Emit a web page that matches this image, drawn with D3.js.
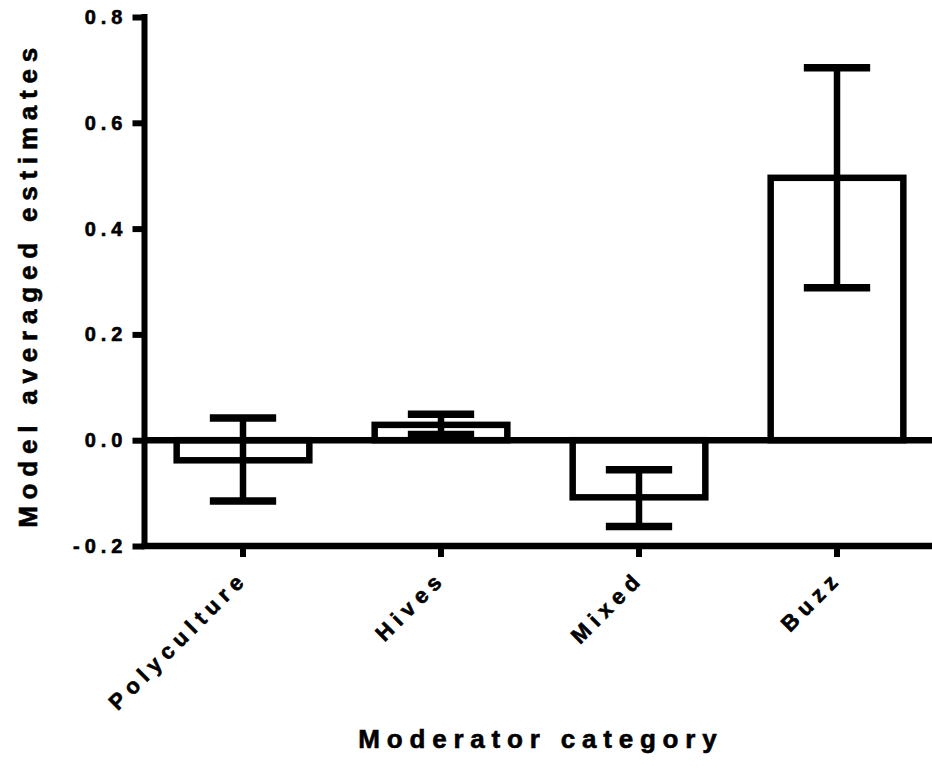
<!DOCTYPE html>
<html>
<head>
<meta charset="utf-8">
<script src="https://cdn.jsdelivr.net/npm/d3@7"></script>
<style>
  html, body { margin: 0; padding: 0; background: #fff; }
  svg { display: block; }
  text {
    font-family: "Liberation Sans", Arial, Helvetica, sans-serif;
    font-weight: bold; fill: #000;
    stroke: #000; stroke-width: 0.6px; paint-order: stroke;
  }
</style>
</head>
<body>
<svg id="chart" width="932" height="778"></svg>
<script>
// Moderator categories and their model averaged estimates with interval bounds
const categories = ["Polyculture", "Hives", "Mixed", "Buzz"];
const estimates  = [-0.038, 0.029, -0.108, 0.496];
const upperBound = [0.042, 0.049, -0.056, 0.704];
const lowerBound = [-0.115, 0.011, -0.163, 0.288];
const yTicks     = [-0.2, 0.0, 0.2, 0.4, 0.6, 0.8];

const W = 932, H = 778;
const axisX = 144.5, bottomY = 546, topY = 17;
const svg = d3.select("#chart");

const x = d3.scaleBand().domain(categories).range([144, 936]).paddingInner(0).paddingOuter(0);
const y = d3.scaleLinear().domain([-0.2, 0.8]).range([bottomY, topY]);

const barW = x.bandwidth() * 0.67;
const capW = barW / 2;
const rows = categories.map((c, i) => ({ c, v: estimates[i], hi: upperBound[i], lo: lowerBound[i] }));

// Bars (open outlines)
svg.append("g").selectAll("rect").data(rows).join("rect")
  .attr("x", d => x(d.c) + x.bandwidth() / 2 - barW / 2)
  .attr("width", barW)
  .attr("y", d => Math.min(y(d.v), y(0)))
  .attr("height", d => Math.abs(y(d.v) - y(0)))
  .attr("fill", "none")
  .attr("stroke", "#000")
  .attr("stroke-width", 6.5);

// Error bars
const eb = svg.append("g").selectAll("g").data(rows).join("g")
  .attr("transform", d => `translate(${x(d.c) + x.bandwidth() / 2},0)`);
eb.append("line")
  .attr("y1", d => y(d.hi)).attr("y2", d => y(d.lo))
  .attr("stroke", "#000").attr("stroke-width", 6.5);
eb.append("line")
  .attr("x1", -capW / 2).attr("x2", capW / 2)
  .attr("y1", d => y(d.hi)).attr("y2", d => y(d.hi))
  .attr("stroke", "#000").attr("stroke-width", 7.5);
eb.append("line")
  .attr("x1", -capW / 2).attr("x2", capW / 2)
  .attr("y1", d => y(d.lo)).attr("y2", d => y(d.lo))
  .attr("stroke", "#000").attr("stroke-width", 7.5);

// Zero reference line
svg.append("line")
  .attr("x1", axisX).attr("x2", W)
  .attr("y1", y(0)).attr("y2", y(0))
  .attr("stroke", "#000").attr("stroke-width", 6.5);

// Y axis (plain hyphen for negative values)
const fmt = d3.format(".1f");
const yAxis = d3.axisLeft(y).tickValues(yTicks).tickSize(12).tickPadding(10)
  .tickFormat(d => fmt(d).replace("\u2212", "-"));
const gy = svg.append("g").attr("transform", `translate(${axisX},0)`).call(yAxis);
gy.select(".domain").remove();
gy.selectAll(".tick line").attr("stroke", "#000").attr("stroke-width", 6);
gy.selectAll(".tick text")
  .attr("font-size", 20).attr("letter-spacing", "5px")
  .attr("dx", 5);
svg.append("line")
  .attr("x1", axisX).attr("x2", axisX)
  .attr("y1", topY - 3).attr("y2", bottomY + 3)
  .attr("stroke", "#000").attr("stroke-width", 6);

// X axis
const xAxis = d3.axisBottom(x).tickSize(11).tickFormat("");
const gx = svg.append("g").attr("transform", `translate(0,${bottomY})`).call(xAxis);
gx.select(".domain").remove();
gx.selectAll(".tick line").attr("stroke", "#000").attr("stroke-width", 6);
svg.append("line")
  .attr("x1", axisX - 3).attr("x2", W)
  .attr("y1", bottomY).attr("y2", bottomY)
  .attr("stroke", "#000").attr("stroke-width", 6.5);

// Rotated category labels
const lsCat = 6;
svg.append("g").selectAll("text").data(categories).join("text")
  .attr("transform", d => `translate(${x(d) + x.bandwidth() / 2 + 2 + lsCat * 0.707},${584 - lsCat * 0.707}) rotate(-45)`)
  .attr("text-anchor", "end")
  .attr("font-size", 22)
  .attr("letter-spacing", lsCat + "px")
  .text(d => d);

// Axis titles
const lsTitle = 6.8;
svg.append("text")
  .attr("transform", `translate(${37},${281 + lsTitle / 2}) rotate(-90)`)
  .attr("text-anchor", "middle")
  .attr("font-size", 26)
  .attr("letter-spacing", lsTitle + "px")
  .text("Model averaged estimates");

svg.append("text")
  .attr("x", 537.5 + lsTitle / 2).attr("y", 748)
  .attr("text-anchor", "middle")
  .attr("font-size", 26)
  .attr("letter-spacing", lsTitle + "px")
  .text("Moderator category");
</script>
</body>
</html>
